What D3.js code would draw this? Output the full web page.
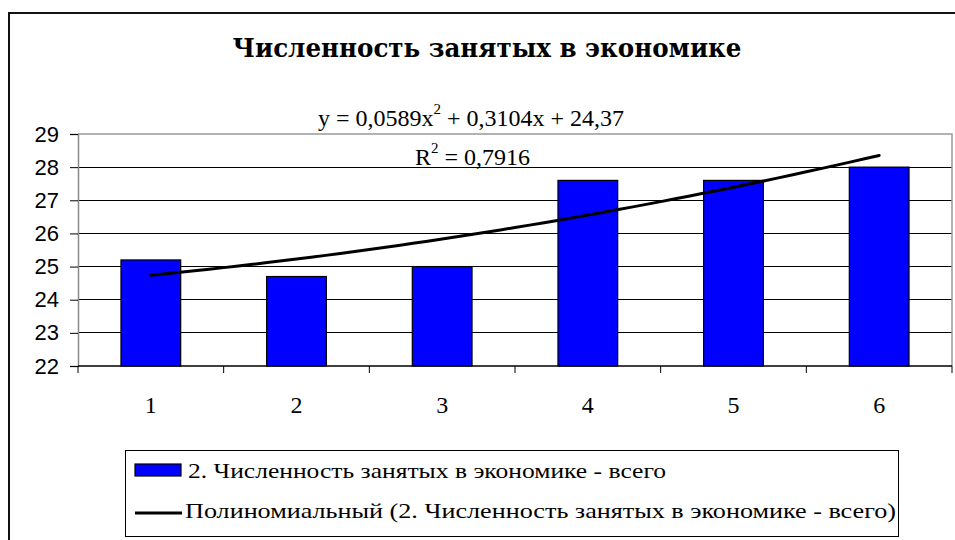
<!DOCTYPE html>
<html>
<head>
<meta charset="utf-8">
<script src="https://cdn.jsdelivr.net/npm/d3@7"></script>
<style>
  body { margin: 0; background: #fff; }
  svg { display: block; }
</style>
</head>
<body>
<div id="chart-area"></div>
<script>
// data
const categories = ['1', '2', '3', '4', '5', '6']
const employed = [25.2, 24.7, 25.0, 27.6, 27.6, 28.0]
const yTicks = [22, 23, 24, 25, 26, 27, 28, 29]
const trendCoef = [24.37, 0.3104, 0.0589]   // c0 + c1*x + c2*x^2
const titleText = 'Численность занятых в экономике'
const seriesName = '2. Численность занятых в экономике - всего'
const trendName = 'Полиномиальный (2. Численность занятых в экономике - всего)'

const W = 955, H = 540
const plot = {left: 78, right: 952, top: 134, bottom: 366}
const serif = '"Liberation Serif", "Times New Roman", serif'
const sans = '"Liberation Sans", Arial, sans-serif'

const svg = d3.select('#chart-area')
  .append('svg')
    .attr('width', W)
    .attr('height', H)

// outer chart frame (runs off the right and bottom)
svg.append('path')
  .attr('d', `M9,${H + 5} V13 H${W + 5}`)
  .attr('fill', 'none')
  .attr('stroke', '#111')
  .attr('stroke-width', 2)

const x = d3.scaleBand()
  .domain(categories)
  .range([plot.left, plot.right])
  .paddingInner(0.59)
  .paddingOuter(0.295)

const xCat = d3.scaleBand()
  .domain(categories)
  .range([plot.left, plot.right])
  .padding(0)

const y = d3.scaleLinear()
  .domain([22, 29])
  .range([plot.bottom, plot.top])

// gridlines
svg.append('g')
  .selectAll('line')
  .data(yTicks.filter(t => t > 22 && t < 29))
  .enter().append('line')
    .attr('x1', plot.left).attr('x2', plot.right)
    .attr('y1', d => y(d)).attr('y2', d => y(d))
    .attr('stroke', '#000')
    .attr('stroke-width', 1)
    .attr('shape-rendering', 'crispEdges')

// plot border top/right in grey
svg.append('path')
  .attr('d', `M${plot.left},${y(29)} H${plot.right} V${plot.bottom}`)
  .attr('fill', 'none')
  .attr('stroke', '#999')
  .attr('stroke-width', 1.5)

// y axis
const yAxis = svg.append('g')
  .attr('transform', `translate(${plot.left},0)`)
  .call(d3.axisLeft(y).tickValues(yTicks).tickSize(8).tickPadding(11).tickFormat(d3.format('d')))
yAxis.select('.domain').attr('stroke', '#888').attr('stroke-width', 1.5)
yAxis.selectAll('.tick line').attr('stroke', '#000')
yAxis.selectAll('text')
  .attr('font-family', sans)
  .attr('font-size', 22)
  .attr('fill', '#000')

// bars
svg.append('g')
  .selectAll('rect')
  .data(employed)
  .enter().append('rect')
    .attr('x', (d, i) => x(categories[i]))
    .attr('y', d => y(d))
    .attr('width', x.bandwidth())
    .attr('height', d => y(22) - y(d))
    .attr('fill', '#0000ff')
    .attr('stroke', '#000')
    .attr('stroke-width', 1.2)

// x axis: ticks sit between categories
const xAxis = svg.append('g')
  .attr('transform', `translate(0,${plot.bottom})`)
xAxis.append('line')
  .attr('x1', plot.left).attr('x2', plot.right)
  .attr('stroke', '#000').attr('stroke-width', 1.5)
xAxis.selectAll('.xt')
  .data(categories)
  .enter().append('line')
    .attr('class', 'xt')
    .attr('x1', d => xCat(d) + xCat.bandwidth())
    .attr('x2', d => xCat(d) + xCat.bandwidth())
    .attr('y1', 0).attr('y2', 7)
    .attr('stroke', '#000')
xAxis.append('line')
  .attr('x1', plot.left).attr('x2', plot.left)
  .attr('y1', 0).attr('y2', 7)
  .attr('stroke', '#000')
xAxis.selectAll('text')
  .data(categories)
  .enter().append('text')
    .attr('x', d => xCat(d) + xCat.bandwidth() / 2)
    .attr('y', 47)
    .attr('text-anchor', 'middle')
    .attr('font-family', serif)
    .attr('font-size', 24)
    .text(d => d)

// polynomial trendline
const xNum = d3.scaleLinear()
  .domain([1, 6])
  .range([xCat('1') + xCat.bandwidth() / 2, xCat('6') + xCat.bandwidth() / 2])
const trendPts = d3.range(1, 6.001, 0.1).map(t => [t, trendCoef[0] + trendCoef[1] * t + trendCoef[2] * t * t])
svg.append('path')
  .datum(trendPts)
  .attr('fill', 'none')
  .attr('stroke', '#000')
  .attr('stroke-width', 3)
  .attr('stroke-linecap', 'round')
  .attr('d', d3.line().x(d => xNum(d[0])).y(d => y(d[1])))

// equation labels
const eq = svg.append('text')
  .attr('x', 318)
  .attr('y', 126)
  .attr('font-family', serif)
  .attr('font-size', 24)
eq.append('tspan').text('y = 0,0589x')
eq.append('tspan').attr('dy', -12).attr('font-size', 15).text('2')
eq.append('tspan').attr('dy', 12).text(' + 0,3104x + 24,37')

const r2 = svg.append('text')
  .attr('x', 415)
  .attr('y', 165)
  .attr('font-family', serif)
  .attr('font-size', 24)
r2.append('tspan').text('R')
r2.append('tspan').attr('dy', -12).attr('font-size', 15).text('2')
r2.append('tspan').attr('dy', 12).text(' = 0,7916')

// title
svg.append('text')
  .attr('x', 487)
  .attr('y', 57)
  .attr('text-anchor', 'middle')
  .attr('font-family', '"DejaVu Serif Condensed", "DejaVu Serif", serif')
  .attr('font-stretch', 'condensed')
  .attr('font-weight', 'bold')
  .attr('font-size', 26)
  .attr('textLength', 509)
  .attr('lengthAdjust', 'spacingAndGlyphs')
  .text(titleText)

// legend
const legend = svg.append('g')
legend.append('rect')
  .attr('x', 125.5).attr('y', 450.5)
  .attr('width', 773).attr('height', 86)
  .attr('fill', '#fff')
  .attr('stroke', '#000')
legend.append('rect')
  .attr('x', 135).attr('y', 464)
  .attr('width', 46).attr('height', 12)
  .attr('fill', '#0000ff')
  .attr('stroke', '#000')
  .attr('stroke-width', 1.2)
legend.append('text')
  .attr('x', 188).attr('y', 478)
  .attr('font-family', serif)
  .attr('font-size', 22)
  .attr('textLength', 478)
  .attr('lengthAdjust', 'spacingAndGlyphs')
  .text(seriesName)
legend.append('line')
  .attr('x1', 135).attr('x2', 182)
  .attr('y1', 513).attr('y2', 513)
  .attr('stroke', '#000')
  .attr('stroke-width', 3)
legend.append('text')
  .attr('x', 185).attr('y', 518)
  .attr('font-family', serif)
  .attr('font-size', 22)
  .attr('textLength', 711)
  .attr('lengthAdjust', 'spacingAndGlyphs')
  .text(trendName)
</script>
</body>
</html>
